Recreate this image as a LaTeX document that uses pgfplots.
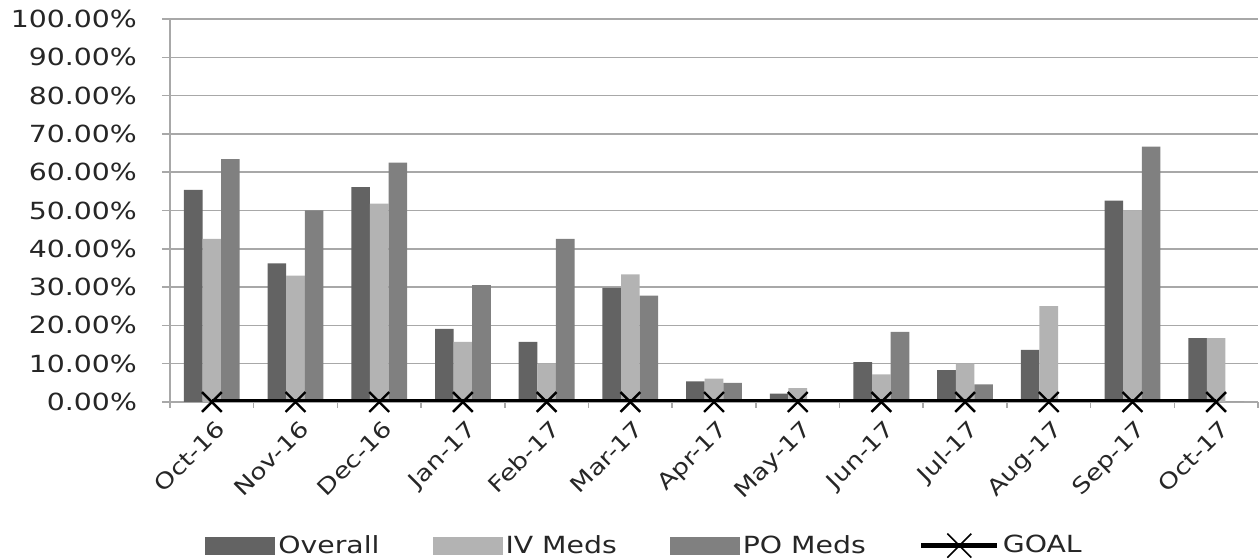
\documentclass[border=0pt]{standalone}
\usepackage{fontspec}
\setmainfont{DejaVu Sans}[FakeStretch=1.2]
\usepackage{pgfplots}
\pgfplotsset{compat=1.18}
\definecolor{cOverall}{HTML}{636363}
\definecolor{cIV}{HTML}{B3B3B3}
\definecolor{cPO}{HTML}{808080}
\definecolor{gridgray}{HTML}{A8A8A8}
\begin{document}
\begin{tikzpicture}
\begin{axis}[name=A, scale only axis, width=544pt, height=191.5pt,
  ymin=0, ymax=100, xmin=-0.5, xmax=12.5,
  ybar=0pt, bar width=9.3pt,
  axis x line=bottom, axis y line=left,
  axis line style={draw=gridgray, line width=0.75pt, -},
  tick align=outside,
  font=\fontsize{11.8}{14}\selectfont,
  /pgf/number format/assume math mode=true,
  ytick={0,10,...,100},
  yticklabels={0.00\%,10.00\%,20.00\%,30.00\%,40.00\%,50.00\%,60.00\%,70.00\%,80.00\%,90.00\%,100.00\%},
  yticklabel style={xshift=-9pt, text=black!85},
  ytick style={draw=gridgray, line width=0.75pt},
  major tick length=4pt,
  ymajorgrids, grid style={gridgray, line width=0.75pt},
  xtick={0,...,12},
  xticklabels={Oct-16,Nov-16,Dec-16,Jan-17,Feb-17,Mar-17,Apr-17,May-17,Jun-17,Jul-17,Aug-17,Sep-17,Oct-17},
  xtick style={draw=none},
  xticklabel style={rotate=45, anchor=north east, inner sep=1pt, xshift=-1pt, yshift=-3pt, font=\fontsize{11}{13}\selectfont, text=black!85},
  extra x ticks={-0.5,0.5,...,12.5},
  extra x tick labels={},
  extra x tick style={xtick style={draw=gridgray, line width=0.75pt}, major tick length=3pt, grid=none},
  legend style={at={(0.4366,-0.375)}, anchor=center, draw=none, legend columns=4,
    /tikz/every even column/.append style={column sep=25pt},
    nodes={inner sep=1.5pt, text=black!85}, font=\fontsize{11.8}{14}\selectfont},
]
\addplot[fill=cOverall, draw=none, legend image code/.code={\fill[cOverall] (0pt,-4.5pt) rectangle (35pt,4.5pt);}] coordinates {
(0,55.4) (1,36.2) (2,56.1) (3,19.1) (4,15.7) (5,29.8) (6,5.4) (7,2.2) (8,10.4) (9,8.3) (10,13.6) (11,52.6) (12,16.67)};
\addlegendentry{Overall}
\addplot[fill=cIV, draw=none, legend image code/.code={\fill[cIV] (0pt,-4.5pt) rectangle (35pt,4.5pt);}] coordinates {
(0,42.6) (1,33.0) (2,51.8) (3,15.7) (4,10.0) (5,33.3) (6,6.1) (7,3.6) (8,7.2) (9,10.0) (10,25.0) (11,50.0) (12,16.67)};
\addlegendentry{IV Meds}
\addplot[fill=cPO, draw=none, legend image code/.code={\fill[cPO] (0pt,-4.5pt) rectangle (35pt,4.5pt);}] coordinates {
(0,63.4) (1,50.0) (2,62.5) (3,30.5) (4,42.6) (5,27.8) (6,5.0) (7,0) (8,18.3) (9,4.6) (10,0) (11,66.67) (12,0)};
\addlegendentry{PO Meds}
\addplot[sharp plot, black, line width=2.5pt, mark=x, mark size=7pt, mark options={line width=1.2pt},
  legend image code/.code={\draw[black,line width=2.5pt] (0pt,0pt)--(38pt,0pt); \draw[black,line width=0.8pt] (13pt,-6pt)--(25pt,6pt) (13pt,6pt)--(25pt,-6pt);}] coordinates {
(0,0) (1,0) (2,0) (3,0) (4,0) (5,0) (6,0) (7,0) (8,0) (9,0) (10,0) (11,0) (12,0)};
\addlegendentry{GOAL}
\end{axis}
\pgfresetboundingbox
\path ([xshift=-85pt,yshift=-79pt]A.south west) rectangle ([xshift=1pt,yshift=9.5pt]A.north east);
\end{tikzpicture}
\end{document}
